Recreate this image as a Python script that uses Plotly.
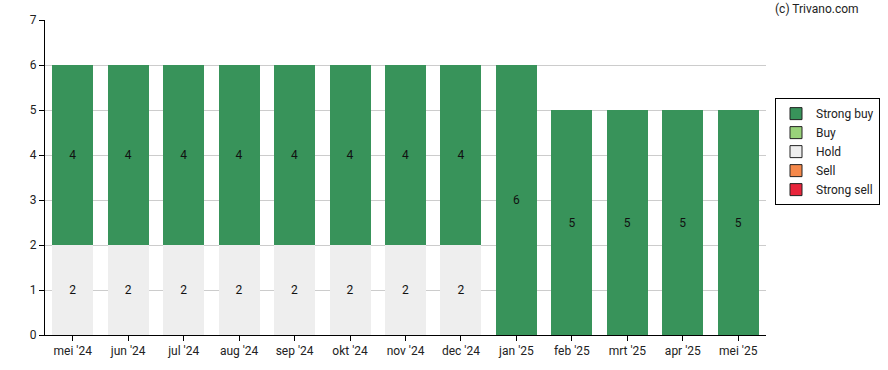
import plotly.graph_objects as go

months = ["mei '24", "jun '24", "jul '24", "aug '24", "sep '24", "okt '24", "nov '24",
          "dec '24", "jan '25", "feb '25", "mrt '25", "apr '25", "mei '25"]
strong_buy = [4, 4, 4, 4, 4, 4, 4, 4, 6, 5, 5, 5, 5]
buy = [0] * 13
hold = [2, 2, 2, 2, 2, 2, 2, 2, 0, 0, 0, 0, 0]
sell = [0] * 13
strong_sell = [0] * 13

series = [
    ("Strong sell", strong_sell, "#e8253b"),
    ("Sell", sell, "#f5884a"),
    ("Hold", hold, "#eeeeee"),
    ("Buy", buy, "#99d27a"),
    ("Strong buy", strong_buy, "#38935a"),
]

fig = go.Figure()
for name, vals, color in series:
    fig.add_trace(go.Bar(
        x=months, y=vals, name=name, showlegend=False,
        marker=dict(color=color, line=dict(width=0)),
        text=[str(v) if v else "" for v in vals],
        textposition="inside", insidetextanchor="middle",
        textfont=dict(color="#111111", size=12, family="Roboto"),
        hoverinfo="skip",
    ))
# legend entries with outlined swatches
for name, vals, color in series:
    fig.add_trace(go.Bar(
        x=[months[0]], y=[None], name=name, showlegend=True,
        marker=dict(color=color, line=dict(width=1, color="#222222")),
        hoverinfo="skip",
    ))

fig.update_layout(
    barmode="stack",
    bargap=0.26,
    width=888, height=370,
    margin=dict(l=45, r=122, t=20, b=35, autoexpand=False),
    plot_bgcolor="white", paper_bgcolor="white",
    font=dict(family="Roboto", size=12, color="#222222"),
    showlegend=True,
    legend=dict(
        traceorder="reversed",
        x=1.0125, y=0.752, xanchor="left", yanchor="top",
        bordercolor="#000000", borderwidth=1,
        font=dict(size=12, family="Roboto", color="#222222"),
        tracegroupgap=0,
    ),
)
fig.update_xaxes(
    showline=True, linecolor="#000000", linewidth=1,
    ticks="outside", ticklen=5, tickcolor="#000000",
    showgrid=False, automargin=False,
)
fig.update_yaxes(
    range=[0, 7], dtick=1,
    showline=True, linecolor="#000000", linewidth=1,
    ticks="outside", ticklen=5, tickcolor="#000000",
    showgrid=True, gridcolor="#cccccc", gridwidth=1,
    zeroline=False, automargin=False,
)
fig.add_annotation(
    text="(c) Trivano.com", xref="paper", yref="paper",
    x=1.01, y=1.0, xanchor="left", yanchor="bottom",
    showarrow=False, font=dict(size=12, family="Roboto", color="#222222"),
    yshift=2,
)
fig.write_html("out.html", config={"displayModeBar": False, "staticPlot": True},
               post_script="document.body.style.margin='0';")
